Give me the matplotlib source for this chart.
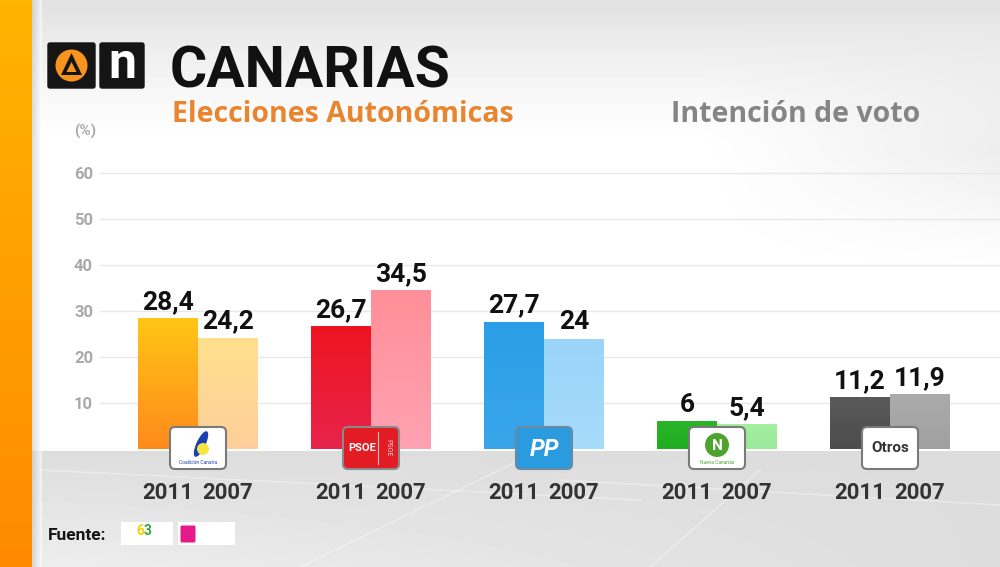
import numpy as np
import matplotlib.pyplot as plt
from matplotlib.colors import LinearSegmentedColormap
from matplotlib.patches import FancyBboxPatch, Rectangle, Circle, Polygon, Ellipse

plt.rcParams['font.family'] = ['Roboto', 'DejaVu Sans']

# data
parties = ['Coalición Canaria', 'PSOE', 'PP', 'Nueva Canarias', 'Otros']
votes_2011 = [28.4, 26.7, 27.7, 6, 11.2]
votes_2007 = [24.2, 34.5, 24, 5.4, 11.9]
years = ['2011', '2007']
y_ticks = [10, 20, 30, 40, 50, 60]

# (top, bottom) colours of every bar
colors_2011 = [('#ffc516', '#ff8a1c'), ('#ee1420', '#e8244c'), ('#2a9ee6', '#3aa6ea'),
               ('#2ab52a', '#1fae1f'), ('#5a5a5a', '#4c4c4c')]
colors_2007 = [('#ffe08c', '#ffcf9c'), ('#ff8f98', '#ffa2b2'), ('#9ad4f8', '#a6dbfb'),
               ('#a4f0a0', '#9ae89a'), ('#ababab', '#a0a0a0')]

W, H = 1000, 567
fig = plt.figure(figsize=(W / 100, H / 100), dpi=100)

# ---- background (pixel space) ----
bg = fig.add_axes([0, 0, 1, 1], zorder=0)
bg.set_xlim(0, W)
bg.set_ylim(0, H)
bg.axis('off')
yt = (H - np.arange(H))[:, None].astype(float)   # distance from top
xp = np.arange(W)[None, :].astype(float)
shade = np.ones((H, W))
top = np.clip(1 - yt / 150, 0, 1)
shade -= 0.12 * top ** 1.4
shade -= 0.07 * np.clip((xp - 700) / 300, 0, 1) * np.clip(1 - np.abs(yt - 150) / 120, 0, 1)
floor = yt > 451
shade = np.where(floor, 0.865 + 0.07 * (1 - xp / W) * np.clip((yt - 451) / 116, 0, 1), shade)
bg.imshow(shade, cmap='gray', vmin=0, vmax=1, origin='lower', extent=[0, W, 0, H],
          aspect='auto', interpolation='bilinear')
# faint streaks on the floor
for (x0, y0, x1, y1) in [(40, H - 470, 640, H - 500), (300, H - 567, 520, H - 460),
                         (560, H - 480, 1000, H - 505), (650, H - 567, 760, H - 470)]:
    bg.plot([x0, x1], [y0, y1], color='white', alpha=0.35, lw=1.2)

# orange strip on the left
strip = np.linspace(0, 1, 100)[:, None]
orange = LinearSegmentedColormap.from_list('or', ['#ff8a00', '#ffb400'])
bg.imshow(strip, cmap=orange, origin='lower', extent=[0, 32, 0, H], aspect='auto')
shadow = np.linspace(0.78, 1, 10)[None, :]
bg.imshow(shadow, cmap='gray', vmin=0, vmax=1, origin='lower', extent=[32, 42, 0, H],
          aspect='auto', alpha=0.6)

# ---- main chart ----
px_unit = 173.0
left_px, right_px = 100, 1000
ax = fig.add_axes([left_px / W, 118 / H, (right_px - left_px) / W, 322 / H], zorder=2)
ax.patch.set_alpha(0)
x = np.arange(len(parties))
w = 60 / px_unit

bars_2011 = ax.bar(x - w / 2, votes_2011, w, color=[c[1] for c in colors_2011], zorder=3)
bars_2007 = ax.bar(x + w / 2, votes_2007, w, color=[c[1] for c in colors_2007], zorder=3)

grad = np.linspace(0, 1, 100)[:, None]
for bars, cols in [(bars_2011, colors_2011), (bars_2007, colors_2007)]:
    for rect, (ctop, cbot) in zip(bars, cols):
        cm = LinearSegmentedColormap.from_list('g', [cbot, ctop])
        im = ax.imshow(grad, cmap=cm, origin='lower', aspect='auto', zorder=3.5,
                       extent=[rect.get_x(), rect.get_x() + rect.get_width(), 0, rect.get_height()])
        im.set_clip_path(rect)

fmt = lambda v: ('%g' % v).replace('.', ',')
for bars, vals in [(bars_2011, votes_2011), (bars_2007, votes_2007)]:
    ax.bar_label(bars, labels=[fmt(v) for v in vals], padding=3, fontsize=19,
                 fontweight='bold', color='#111111', zorder=5)

ax.set_xlim(-98 / px_unit, len(parties) - 1 + 110 / px_unit)
ax.set_ylim(0, 70)
ax.set_yticks(y_ticks)
ax.set_yticklabels([str(t) for t in y_ticks], color='#a9a9a9', fontsize=12, fontweight='bold')
ax.tick_params(axis='y', length=0, pad=5)
ax.set_xticks([])
for s in ax.spines.values():
    s.set_visible(False)
ax.yaxis.grid(True, color='#e8e8e8', lw=1, zorder=1)
ax.set_axisbelow(True)

# year labels under each bar
for xi in x:
    for off, yr in zip([-w / 2, w / 2], years):
        ax.annotate(yr, xy=(xi + off, 0), xytext=(0, -31.5), textcoords='offset points',
                    ha='center', va='center', fontsize=16, fontweight='bold',
                    color='#333333', annotation_clip=False)

# ---- overlay in pixel space: logos and titles ----
ov = fig.add_axes([0, 0, 1, 1], zorder=4)
ov.set_xlim(0, W)
ov.set_ylim(0, H)
ov.axis('off')
fig.canvas.draw()


def box(cx, cy, bw, bh, fc, ec='#7a7a7a', lw=1.5, r=5):
    ov.add_patch(FancyBboxPatch((cx - bw / 2 + r, cy - bh / 2 + r), bw - 2 * r, bh - 2 * r,
                                boxstyle='round,pad=%g' % r, fc=fc, ec=ec, lw=lw))


logo_cy = H - 448
for i, name in enumerate(parties):
    cx = ax.transData.transform((x[i], 0))[0]
    if name == 'Coalición Canaria':
        box(cx, logo_cy, 56, 42, 'white')
        ov.add_patch(Ellipse((cx + 3, logo_cy + 4), 9, 28, angle=-25, fc='#1a3fb0'))
        ov.add_patch(Circle((cx + 5, logo_cy - 1), 6, fc='#f5e642'))
        ov.text(cx, logo_cy - 14, 'Coalición Canaria', fontsize=3.5, color='#1a3fb0',
                ha='center', va='center')
    elif name == 'PSOE':
        box(cx, logo_cy, 56, 42, '#e31b23', ec='#8a8a8a')
        ov.text(cx - 9, logo_cy, 'PSOE', fontsize=8, fontweight='bold', color='white',
                ha='center', va='center')
        ov.plot([cx + 7, cx + 7], [logo_cy - 16, logo_cy + 16], color='white', lw=0.8, alpha=0.7)
        ov.text(cx + 17, logo_cy, 'PSOE', fontsize=5, color='white', rotation=-90,
                ha='center', va='center', alpha=0.8)
    elif name == 'PP':
        box(cx, logo_cy, 56, 42, '#2b9be0', ec='#6a8aa0')
        ov.text(cx, logo_cy - 1, 'PP', fontsize=17, fontweight='bold', style='italic',
                color='white', ha='center', va='center')
    elif name == 'Nueva Canarias':
        box(cx, logo_cy, 56, 42, 'white')
        ov.add_patch(Circle((cx, logo_cy + 3), 12, fc='#4ea32e'))
        ov.text(cx, logo_cy + 2, 'N', fontsize=11, fontweight='bold', color='white',
                ha='center', va='center')
        ov.text(cx, logo_cy - 15, 'Nueva Canarias', fontsize=3.5, color='#4ea32e',
                ha='center', va='center')
    else:
        box(cx, logo_cy, 56, 42, 'white')
        ov.text(cx, logo_cy, 'Otros', fontsize=11, fontweight='bold', color='#333333',
                ha='center', va='center')

# channel logo
ov.add_patch(FancyBboxPatch((50, H - 86), 43, 41, boxstyle='round,pad=2', fc='#151515', ec='#151515'))
ov.add_patch(FancyBboxPatch((102, H - 86), 40, 41, boxstyle='round,pad=2', fc='#151515', ec='#151515'))
ov.add_patch(Circle((71.5, H - 65.5), 16, fc='#f7941d'))
ov.add_patch(Polygon([[71.5, H - 53], [61, H - 75], [82, H - 75]], fc='#151515'))
ov.add_patch(Polygon([[71.5, H - 62], [66.5, H - 72], [76.5, H - 72]], fc='#f7941d'))
ov.text(122, H - 64, 'n', fontsize=36, fontweight='bold', color='white', ha='center', va='center')

# titles
ov.text(170, H - 87, 'CANARIAS', fontsize=41, fontweight='bold', color='#111111', va='baseline')
ov.text(172, H - 122, 'Elecciones Autonómicas', fontsize=20.5, fontweight='bold',
        color='#e9852e', va='baseline', family=['Open Sans', 'DejaVu Sans'])
ov.text(671, H - 122, 'Intención de voto', fontsize=20.5, fontweight='bold',
        color='#858585', va='baseline', family=['Open Sans', 'DejaVu Sans'])
ov.text(85, H - 131, '(%)', fontsize=11, fontweight='bold', color='#aaaaaa',
        ha='center', va='center')

# source
ov.text(48, H - 535, 'Fuente:', fontsize=12.5, fontweight='bold', color='#151515', va='center')
ov.add_patch(Rectangle((121, H - 545), 52, 23, fc='white', ec='none'))
ov.text(140, H - 531, '6', fontsize=10, color='#f5d000', fontweight='bold', ha='center', va='center')
ov.text(148, H - 531, '3', fontsize=10, color='#3aa83a', fontweight='bold', ha='center', va='center')
ov.add_patch(Rectangle((178, H - 545), 57, 23, fc='white', ec='none'))
ov.add_patch(FancyBboxPatch((182, H - 541), 12, 14, boxstyle='round,pad=1.5', fc='#e6198a', ec='none'))

fig.savefig('out.png', dpi=100)
